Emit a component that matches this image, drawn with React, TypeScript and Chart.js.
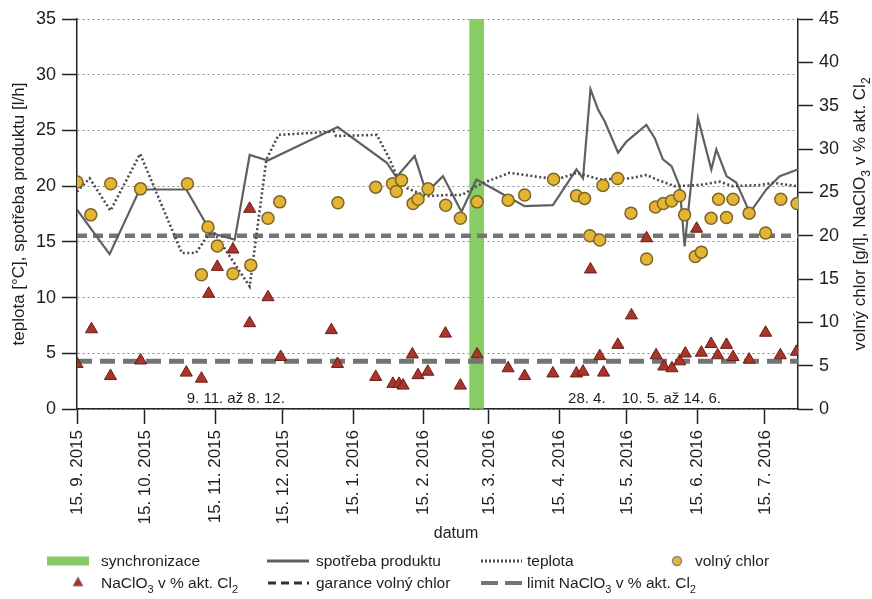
import React, { useEffect, useRef } from 'react';
import { Chart, registerables } from 'chart.js';

Chart.register(...registerables);

const FONT = "'Liberation Sans', Arial, Helvetica, sans-serif";

// x axis = days since 15. 9. 2015
const tickDays = [0, 30, 61, 91, 122, 153, 182, 213, 243, 274, 304];
const tickLabels = [
  '15. 9. 2015', '15. 10. 2015', '15. 11. 2015', '15. 12. 2015', '15. 1. 2016',
  '15. 2. 2016', '15. 3. 2016', '15. 4. 2016', '15. 5. 2016', '15. 6. 2016', '15. 7. 2016',
];
const xMax = 318.6;

// synchronizace (green bar)
const syncDay = 176.6;
const syncValue = 35;

// spotřeba produktu [l/h] (left axis)
const spotrebaDays = [0, 14.4, 27.7, 48.3, 59.4, 69.7, 76.3, 84.3, 115.2, 136.9, 141.1, 149.2, 154.4, 161.7, 169.9, 176.5, 180.9, 197.8, 210.3, 220.7, 223.6, 226.9, 230.2, 233.2, 239.1, 242.8, 251.6, 255.3, 258.9, 262.7, 266.3, 268.5, 274.4, 280.3, 282.5, 287.0, 291.4, 297.3, 304.6, 310.5, 318.5];
const spotrebaValues = [17.9, 13.9, 19.7, 19.7, 15.8, 15.2, 22.8, 22.3, 25.3, 22.1, 20.8, 22.7, 19.4, 20.9, 17.7, 20.6, 20.1, 18.2, 18.3, 21.5, 20.7, 28.7, 26.9, 25.8, 23.0, 24.0, 25.5, 24.3, 22.4, 21.8, 20.0, 14.6, 26.1, 21.5, 23.3, 20.9, 20.3, 17.6, 19.7, 20.9, 21.5];

// teplota [°C] (left axis)
const teplotaDays = [0, 5.6, 14.8, 27.9, 46.3, 52.5, 59.7, 76.3, 83.7, 89.1, 113.5, 114.5, 132.5, 138.2, 141.3, 146.1, 154.5, 163.4, 170, 176.6, 181, 191.2, 201.4, 212, 220.9, 231, 244.3, 251.7, 256.1, 264, 275.1, 284, 289.7, 301.7, 307.4, 318];
const teplotaValues = [19.5, 20.7, 17.8, 22.9, 14.0, 14.0, 16.1, 11.0, 22.4, 24.6, 24.9, 24.5, 24.6, 22.4, 20.9, 19.8, 19.1, 19.2, 19.2, 20.0, 20.4, 21.2, 20.9, 20.6, 21.2, 20.6, 20.7, 21.0, 20.6, 20.0, 20.1, 20.4, 20.0, 20.1, 20.3, 20.0];

// volný chlor [g/l] (right axis)
const chlorDays = [0, 6.1, 14.9, 28.1, 48.8, 55.0, 57.9, 62.0, 68.9, 76.8, 84.4, 89.6, 115.3, 132.0, 139.4, 141.1, 143.4, 148.5, 150.7, 155.1, 162.9, 169.4, 176.8, 190.5, 197.8, 210.6, 220.7, 224.3, 226.6, 231.0, 232.4, 238.9, 244.8, 251.7, 255.6, 259.1, 262.7, 266.3, 268.5, 273.2, 275.9, 280.2, 283.5, 287.0, 289.9, 297.0, 304.3, 311.0, 318.2];
const chlorValues = [26.2, 22.4, 26.0, 25.4, 26.0, 15.5, 21.0, 18.8, 15.6, 16.6, 22.0, 23.9, 23.8, 25.6, 26.0, 25.1, 26.4, 23.7, 24.2, 25.4, 23.5, 22.0, 23.9, 24.1, 24.7, 26.5, 24.6, 24.3, 20.0, 19.5, 25.8, 26.6, 22.6, 17.3, 23.3, 23.7, 24.0, 24.6, 22.4, 17.6, 18.1, 22.0, 24.2, 22.1, 24.2, 22.6, 20.3, 24.2, 23.7];

// NaClO3 v % akt. Cl2 (right axis)
const naclo3Days = [0, 6.4, 14.8, 28.1, 48.3, 55.0, 58.2, 62.0, 68.9, 76.3, 76.3, 84.4, 90.0, 112.4, 115.1, 132.0, 139.6, 142.3, 144.1, 148.2, 150.7, 155.0, 162.8, 169.4, 176.8, 190.5, 197.8, 210.3, 220.7, 223.6, 226.9, 231.0, 232.7, 239.0, 245.0, 251.7, 255.9, 259.3, 262.9, 266.3, 268.8, 273.8, 275.9, 280.2, 283.1, 287.0, 289.9, 297.0, 304.3, 310.8, 317.9];
const naclo3Values = [5.2, 9.2, 3.8, 5.6, 4.2, 3.5, 13.3, 16.4, 18.4, 23.1, 9.9, 12.9, 6.0, 9.1, 5.2, 3.7, 2.9, 2.9, 2.7, 6.3, 3.9, 4.3, 8.7, 2.7, 6.3, 4.7, 3.8, 4.1, 4.1, 4.3, 16.1, 6.1, 4.2, 7.4, 10.8, 19.7, 6.2, 4.9, 4.7, 5.5, 6.4, 20.8, 6.5, 7.5, 6.2, 7.4, 6.0, 5.7, 8.8, 6.2, 6.6];

const garanceChlor = 20;
const limitNaClO3 = 5.5;

const annotationDays = [48.5, 217, 240.7];
const annotationTexts = ['9. 11. až 8. 12.', '28. 4.', '10. 5. až 14. 6.'];

type Part = { t: string; sub?: boolean };

const leftTitle = 'teplota [°C], spotřeba produktu [l/h]';
const rightTitle: Part[] = [
  { t: 'volný chlor [g/l], NaClO' }, { t: '3', sub: true }, { t: ' v % akt. Cl' }, { t: '2', sub: true },
];
const legendRow1 = ['synchronizace', 'spotřeba produktu', 'teplota', 'volný chlor'];
const legendNaclo: Part[] = [{ t: 'NaClO' }, { t: '3', sub: true }, { t: ' v % akt. Cl' }, { t: '2', sub: true }];
const legendGarance: Part[] = [{ t: 'garance volný chlor' }];
const legendLimit: Part[] = [{ t: 'limit NaClO' }, { t: '3', sub: true }, { t: ' v % akt. Cl' }, { t: '2', sub: true }];

const GREEN = '#88cc66';
const LINE_GRAY = '#606060';
const DOT_GRAY = '#4a4a4a';
const DASH_GRAY = '#747474';
const CHLOR_FILL = '#e4b532';
const CHLOR_BORDER = '#7d6526';
const NACLO_FILL = '#a8342a';
const NACLO_BORDER = '#6a1e18';
const TEXT = '#1e1e1e';

function measureRich(ctx: CanvasRenderingContext2D, parts: Part[], size: number) {
  let w = 0;
  for (const p of parts) {
    ctx.font = `${p.sub ? Math.round(size * 0.68) : size}px ${FONT}`;
    w += ctx.measureText(p.t).width;
  }
  return w;
}

function drawRich(ctx: CanvasRenderingContext2D, parts: Part[], x: number, y: number, size: number) {
  let cx = x;
  for (const p of parts) {
    if (p.sub) {
      ctx.font = `${Math.round(size * 0.68)}px ${FONT}`;
      ctx.fillText(p.t, cx, y + size * 0.3);
    } else {
      ctx.font = `${size}px ${FONT}`;
      ctx.fillText(p.t, cx, y);
    }
    cx += ctx.measureText(p.t).width;
  }
}

const overlayPlugin = {
  id: 'overlay',
  afterDraw(chart: any) {
    const { ctx, chartArea, scales } = chart;
    const cy = (chartArea.top + chartArea.bottom) / 2;
    ctx.save();
    ctx.fillStyle = TEXT;
    ctx.textBaseline = 'alphabetic';

    // period annotations
    ctx.textAlign = 'left';
    ctx.font = `15px ${FONT}`;
    annotationDays.forEach((d, i) => {
      ctx.fillText(annotationTexts[i], scales.x.getPixelForValue(d), chartArea.bottom - 6);
    });

    // left axis title
    ctx.save();
    ctx.translate(24, cy);
    ctx.rotate(-Math.PI / 2);
    ctx.textAlign = 'center';
    ctx.font = `17px ${FONT}`;
    ctx.fillText(leftTitle, 0, 0);
    ctx.restore();

    // right axis title
    ctx.save();
    ctx.translate(865, cy);
    ctx.rotate(-Math.PI / 2);
    ctx.textAlign = 'left';
    const rw = measureRich(ctx, rightTitle, 17);
    drawRich(ctx, rightTitle, -rw / 2, 0, 17);
    ctx.restore();

    // x axis title
    ctx.textAlign = 'center';
    ctx.font = `16px ${FONT}`;
    ctx.fillText('datum', 456, 538);

    // legend
    const r1 = 561;
    const r2 = 583;
    ctx.textAlign = 'left';
    // row 1 symbols
    ctx.fillStyle = GREEN;
    ctx.fillRect(47, r1 - 4.5, 42, 9);
    ctx.lineCap = 'butt';
    ctx.strokeStyle = LINE_GRAY;
    ctx.lineWidth = 3;
    ctx.setLineDash([]);
    ctx.beginPath(); ctx.moveTo(267, r1); ctx.lineTo(309, r1); ctx.stroke();
    ctx.strokeStyle = DOT_GRAY;
    ctx.setLineDash([2, 2]);
    ctx.beginPath(); ctx.moveTo(481, r1); ctx.lineTo(522, r1); ctx.stroke();
    ctx.setLineDash([]);
    ctx.fillStyle = CHLOR_FILL;
    ctx.strokeStyle = '#8a8a8a';
    ctx.lineWidth = 1.5;
    ctx.beginPath(); ctx.arc(677, r1, 4.5, 0, Math.PI * 2); ctx.fill(); ctx.stroke();
    // row 1 texts
    ctx.fillStyle = TEXT;
    ctx.font = `15.5px ${FONT}`;
    const r1x = [101, 316, 527, 695];
    legendRow1.forEach((t, i) => ctx.fillText(t, r1x[i], r1 + 5));

    // row 2 symbols
    ctx.fillStyle = NACLO_FILL;
    ctx.strokeStyle = '#888';
    ctx.lineWidth = 1;
    ctx.beginPath(); ctx.moveTo(78, r2 - 6); ctx.lineTo(83, r2 + 3); ctx.lineTo(73, r2 + 3); ctx.closePath(); ctx.fill(); ctx.stroke();
    ctx.strokeStyle = '#333';
    ctx.lineWidth = 3;
    ctx.setLineDash([8, 5]);
    ctx.beginPath(); ctx.moveTo(268, r2); ctx.lineTo(309, r2); ctx.stroke();
    ctx.strokeStyle = DASH_GRAY;
    ctx.lineWidth = 4;
    ctx.setLineDash([17, 7]);
    ctx.beginPath(); ctx.moveTo(481, r2); ctx.lineTo(522, r2); ctx.stroke();
    ctx.setLineDash([]);
    ctx.fillStyle = TEXT;
    drawRich(ctx, legendNaclo, 101, r2 + 5, 15.5);
    drawRich(ctx, legendGarance, 316, r2 + 5, 15.5);
    drawRich(ctx, legendLimit, 527, r2 + 5, 15.5);

    ctx.restore();
  },
};

export default function App() {
  const canvasRef = useRef<HTMLCanvasElement | null>(null);

  useEffect(() => {
    if (!canvasRef.current) return;
    const xy = (xs: number[], ys: number[]) => xs.map((x, i) => ({ x, y: ys[i] }));

    const chart = new Chart(canvasRef.current, {
      type: 'line',
      data: {
        datasets: [
          {
            type: 'bar',
            label: 'synchronizace',
            data: [{ x: syncDay, y: syncValue }],
            backgroundColor: GREEN,
            borderWidth: 0,
            barThickness: 14,
            yAxisID: 'y',
            order: 10,
          } as any,
          {
            label: 'garance volný chlor',
            data: [{ x: 0, y: garanceChlor }, { x: xMax, y: garanceChlor }],
            borderColor: DASH_GRAY,
            borderWidth: 4.5,
            borderDash: [10, 6],
            pointRadius: 0,
            yAxisID: 'y1',
            order: 8,
          },
          {
            label: 'limit NaClO3',
            data: [{ x: 0, y: limitNaClO3 }, { x: xMax, y: limitNaClO3 }],
            borderColor: DASH_GRAY,
            borderWidth: 5,
            borderDash: [15, 8],
            pointRadius: 0,
            yAxisID: 'y1',
            order: 8,
          },
          {
            label: 'spotřeba produktu',
            data: xy(spotrebaDays, spotrebaValues),
            borderColor: LINE_GRAY,
            borderWidth: 2.2,
            pointRadius: 0,
            tension: 0,
            yAxisID: 'y',
            order: 6,
          },
          {
            label: 'teplota',
            data: xy(teplotaDays, teplotaValues),
            borderColor: DOT_GRAY,
            borderWidth: 2.6,
            borderDash: [2, 2.5],
            pointRadius: 0,
            tension: 0,
            yAxisID: 'y',
            order: 5,
          },
          {
            label: 'volný chlor',
            data: xy(chlorDays, chlorValues),
            showLine: false,
            pointRadius: 6,
            pointStyle: 'circle',
            pointBackgroundColor: CHLOR_FILL,
            pointBorderColor: CHLOR_BORDER,
            pointBorderWidth: 1.5,
            yAxisID: 'y1',
            order: 2,
          },
          {
            label: 'NaClO3',
            data: xy(naclo3Days, naclo3Values),
            showLine: false,
            pointRadius: 7,
            pointStyle: 'triangle',
            pointBackgroundColor: NACLO_FILL,
            pointBorderColor: NACLO_BORDER,
            pointBorderWidth: 1,
            yAxisID: 'y1',
            order: 1,
          },
        ],
      },
      options: {
        responsive: false,
        animation: false,
        events: [],
        layout: { padding: { top: 19, left: 0, right: 0, bottom: 0 } },
        plugins: {
          legend: { display: false },
          tooltip: { enabled: false },
          title: { display: false },
        },
        scales: {
          x: {
            type: 'linear',
            min: 0,
            max: xMax,
            offset: false,
            afterBuildTicks: (scale: any) => {
              scale.ticks = tickDays.map((v) => ({ value: v }));
            },
            afterFit: (scale: any) => {
              scale.height = 190;
            },
            ticks: {
              autoSkip: false,
              minRotation: 90,
              maxRotation: 90,
              padding: 6,
              color: TEXT,
              font: { family: FONT, size: 17 },
              callback: (_v: any, i: number) => tickLabels[i],
            },
            grid: {
              offset: false,
              drawOnChartArea: false,
              drawTicks: true,
              tickLength: 15,
              tickColor: '#222',
              tickWidth: 1.5,
            },
            border: { color: '#222', width: 1.5 },
          },
          y: {
            type: 'linear',
            position: 'left',
            min: 0,
            max: 35,
            afterFit: (scale: any) => {
              scale.width = 77;
            },
            ticks: {
              stepSize: 5,
              padding: 6,
              color: TEXT,
              font: { family: FONT, size: 18 },
            },
            grid: {
              drawOnChartArea: true,
              color: '#8a8a8a',
              lineWidth: 1,
              tickLength: 15,
              tickColor: '#222',
              tickWidth: 1.5,
              tickBorderDash: [],
            },
            border: { color: '#222', width: 1.5, dash: [2, 3] },
          },
          y1: {
            type: 'linear',
            position: 'right',
            min: 0,
            max: 45,
            afterFit: (scale: any) => {
              scale.width = 74;
            },
            ticks: {
              stepSize: 5,
              padding: 6,
              color: TEXT,
              font: { family: FONT, size: 18 },
            },
            grid: {
              drawOnChartArea: false,
              tickLength: 15,
              tickColor: '#222',
              tickWidth: 1.5,
            },
            border: { color: '#222', width: 1.5 },
          },
        },
      } as any,
      plugins: [overlayPlugin],
    });

    return () => chart.destroy();
  }, []);

  return (
    <div style={{ position: 'fixed', left: 0, top: 0, width: 872, height: 599, background: '#fff' }}>
      <canvas ref={canvasRef} width={872} height={599} style={{ width: 872, height: 599, display: 'block' }} />
    </div>
  );
}
